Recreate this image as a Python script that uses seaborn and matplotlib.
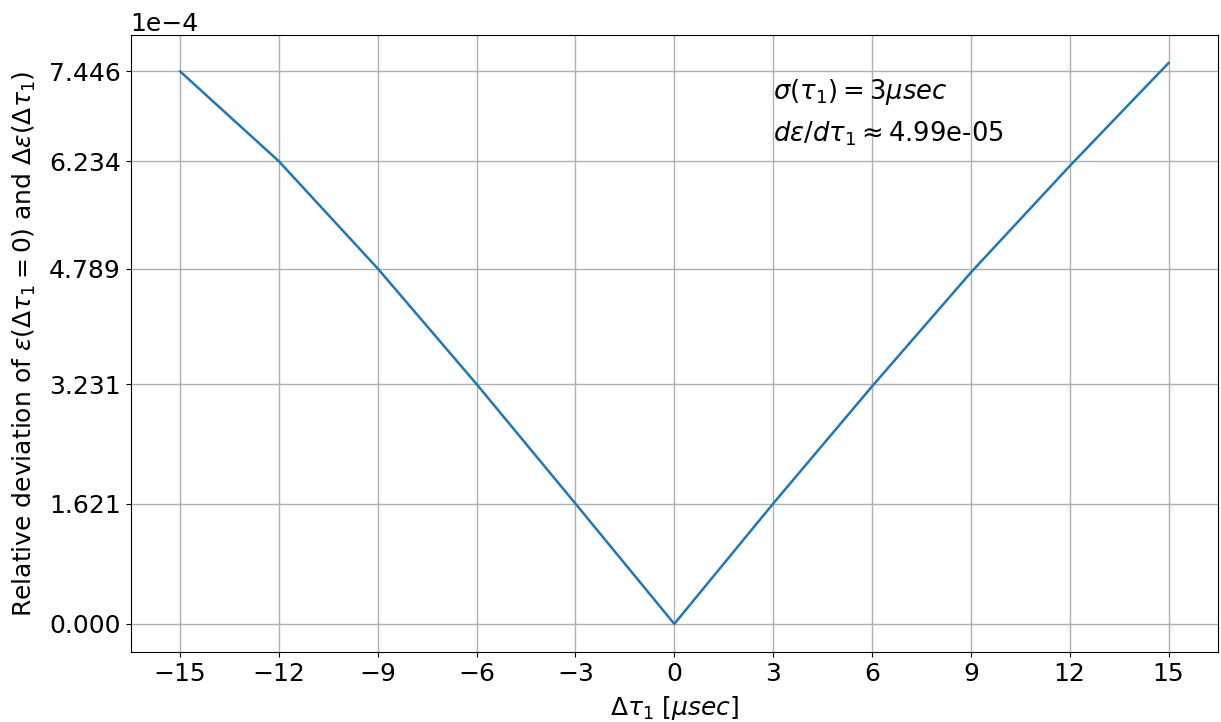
import matplotlib
matplotlib.use("Agg")
import matplotlib.pyplot as plt
import seaborn as sns
import pandas as pd
import numpy as np

dtau = [-15, -12, -9, -6, -3, 0, 3, 6, 9, 12, 15]
rel_dev = [7.446, 6.234, 4.789, 3.231, 1.621, 0.0, 1.621, 3.200, 4.735, 6.170, 7.558]  # x1e-4
yticks = [0.000, 1.621, 3.231, 4.789, 6.234, 7.446]  # x1e-4
xticks = [-15, -12, -9, -6, -3, 0, 3, 6, 9, 12, 15]

df = pd.DataFrame({"dtau": dtau, "dev": np.array(rel_dev) * 1e-4})

plt.rcParams.update({"font.size": 18})
fig, ax = plt.subplots(figsize=(12.21, 7.22), dpi=100)
sns.lineplot(data=df, x="dtau", y="dev", ax=ax, color="#1f77b4", linewidth=1.8)
ax.set_xticks(xticks)
ax.set_yticks(np.array(yticks) * 1e-4)
ax.ticklabel_format(axis="y", style="sci", scilimits=(-4, -4))
ax.grid(True, color="#b0b0b0", linewidth=1.0)
ax.set_xlabel(r"$\Delta\tau_1$ [$\mu sec$]", labelpad=6)
ax.set_ylabel(r"Relative deviation of $\varepsilon(\Delta\tau_1=0)$ and $\Delta\varepsilon(\Delta\tau_1)$", labelpad=8)
ax.text(3, 7.08e-4, r"$\sigma(\tau_1) = 3\mu sec$", fontsize=18.6, va="baseline")
ax.text(3, 6.50e-4, r"$d\varepsilon/d\tau_1 \approx$4.99e-05", fontsize=18.6, va="baseline")
fig.subplots_adjust(left=0.107, right=0.9975, top=0.9515, bottom=0.097)
fig.savefig("out.png", dpi=100)
